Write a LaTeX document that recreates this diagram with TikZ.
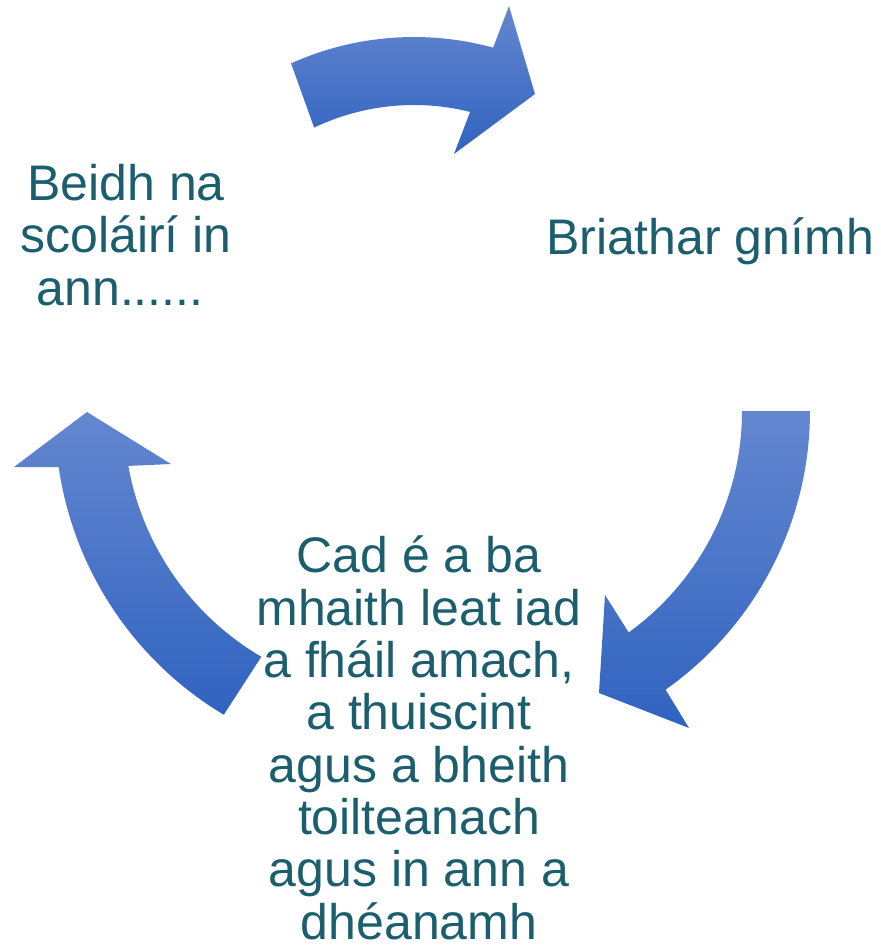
\documentclass[tikz,border=0pt]{standalone}
\usepackage{fontspec}
\setmainfont{Liberation Sans}
\definecolor{txtc}{RGB}{27,94,110}
\definecolor{arrtop}{RGB}{100,135,208}
\definecolor{arrbot}{RGB}{48,99,192}
\tikzset{
  lbl/.style={text=txtc, align=center, inner sep=0pt, anchor=base,
    font=\fontsize{50}{52.3}\selectfont},
  arrowshade/.style={top color=arrtop, bottom color=arrbot, draw=none}
}
\begin{document}
\begin{tikzpicture}[x=1pt,y=-1pt]
\useasboundingbox (0,0) rectangle (881,946);
% top arrow
\shade[arrowshade] ([shift={(414,337)}]245.8:300) arc[start angle=245.8, end angle=285.3, radius=300]
  -- (509,6) -- (535,94) -- (454,154)
  -- ([shift={(414,337)}]284:232) arc[start angle=284, end angle=244.5, radius=232] -- cycle;
% right arrow
\shade[arrowshade] ([shift={(469,411)}]0:341) arc[start angle=0, end angle=54.8, radius=341]
  -- (689,728) -- (599,693) -- (605,595)
  -- ([shift={(469,411)}]54.2:273) arc[start angle=54.2, end angle=0, radius=273] -- cycle;
% left arrow
\shade[arrowshade] ([shift={(402,417)}]120.9:347) arc[start angle=120.9, end angle=171.6, radius=347]
  -- (59,467) -- (14,467) -- (87,412) -- (171,464) -- (127,466)
  -- ([shift={(402,417)}]169.9:278) arc[start angle=169.9, end angle=120.4, radius=278] -- cycle;
% texts (base anchor = baseline of the last line)
\node[lbl] (left) at (126,305) {Beidh na\\scoláirí in\\ann......\hspace*{12pt}};
\node[lbl] (right) at (710,254) {Briathar gnímh};
\node[lbl, text depth=0pt] (bottom) at (419,939) {Cad é a ba\\mhaith leat iad\\a fháil amach,\\a thuiscint\\agus a bheith\\toilteanach\\agus in ann a\\dhéanamh};
\end{tikzpicture}
\end{document}
